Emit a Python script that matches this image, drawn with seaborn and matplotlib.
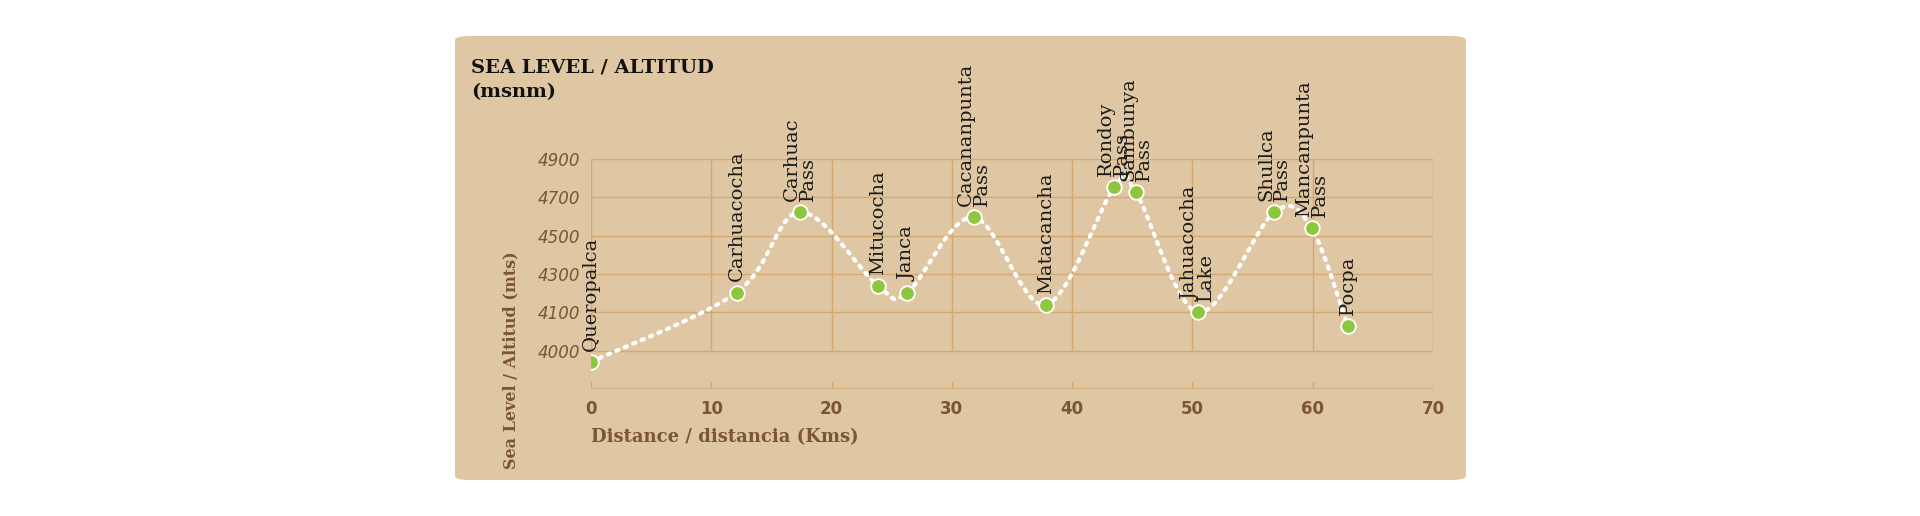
import numpy as np
import pandas as pd
import seaborn as sns
import matplotlib.pyplot as plt
from matplotlib.patches import FancyBboxPatch

# data
places = ["Queropalca", "Carhuacocha", "Carhuac\nPass", "Mitucocha", "Janca",
          "Cacananpunta\nPass", "Matacancha", "Rondoy\nPass", "Sambunya\nPass",
          "Jahuacocha\nLake", "Shullca\nPass", "Mancanpunta\nPass", "Pocpa"]
distance = [0, 12.1, 17.4, 23.9, 26.3, 31.8, 37.8, 43.5, 45.3, 50.5, 56.8, 59.9, 62.9]
altitude = [3842, 4203, 4623, 4235, 4203, 4597, 4139, 4752, 4726, 4100, 4622, 4539, 4030]
ytick_pos = [3900, 4100, 4300, 4500, 4700, 4900]
ytick_lab = ["4000", "4100", "4300", "4500", "4700", "4900"]
xtick_pos = [0, 10, 20, 30, 40, 50, 60, 70]

df = pd.DataFrame({"place": places, "km": distance, "alt": altitude})

BG = "#e0c7a3"
GRID = "#d2a873"
BROWN = "#7a5632"
GREEN = "#8dc63f"


def smooth(x, y, n=20):
    """catmull-rom curve through the points, for the dotted track"""
    x = np.asarray(x, float); y = np.asarray(y, float)
    px = np.r_[x[0], x, x[-1]]; py = np.r_[y[0], y, y[-1]]
    t = np.linspace(0, 1, n, endpoint=False)
    xs, ys = [], []
    for i in range(1, len(px) - 2):
        for arr, out in ((px, xs), (py, ys)):
            p0, p1, p2, p3 = arr[i - 1], arr[i], arr[i + 1], arr[i + 2]
            out.extend(0.5 * (2 * p1 + (-p0 + p2) * t + (2 * p0 - 5 * p1 + 4 * p2 - p3) * t ** 2
                              + (-p0 + 3 * p1 - 3 * p2 + p3) * t ** 3))
    xs.append(x[-1]); ys.append(y[-1])
    return np.array(xs), np.array(ys)


sns.set_theme(style="white")
fig = plt.figure(figsize=(19.2, 5.16), dpi=100)
fig.patch.set_facecolor("white")
bg_ax = fig.add_axes([0, 0, 1, 1], zorder=0)
bg_ax.set_axis_off()
bg_ax.add_patch(FancyBboxPatch((455 / 1920, 36 / 516), 1011 / 1920, 444 / 516,
                               boxstyle="round,pad=0,rounding_size=0.008",
                               transform=bg_ax.transAxes, facecolor=BG, edgecolor="none"))

ax = fig.add_axes([591 / 1920, 1 - 389 / 516, 842 / 1920, 230 / 516], zorder=2)
ax.set_facecolor("none")
ax.set_xlim(0, 70)
ax.set_ylim(3700, 4900)

# grid region
for y in ytick_pos:
    ax.plot([0, 70], [y, y], color=GRID, lw=1, zorder=1)
for x in xtick_pos:
    ax.plot([x, x], [3900, 4900], color=GRID, lw=1, zorder=1)
    ax.plot([x, x], [3700, 3735], color=GRID, lw=1, zorder=1)
ax.plot([0, 70], [3700, 3700], color=GRID, lw=1.2, zorder=1)

sx, sy = smooth(df["km"], df["alt"])
ax.plot(sx, sy, color="white", lw=3, ls=(0, (0.6, 1.6)), dash_capstyle="round", zorder=2)
sns.scatterplot(data=df, x="km", y="alt", ax=ax, s=110, color=GREEN,
                edgecolor="white", linewidth=1.3, zorder=3, legend=False)

for _, r in df.iterrows():
    ax.annotate(r["place"], (r["km"], r["alt"]), xytext=(0, 8), textcoords="offset points",
                rotation=90, ha="center", va="bottom", fontsize=14, family="DejaVu Serif",
                color="#1a1a1a", linespacing=0.85, multialignment="left",
                annotation_clip=False, zorder=4)

for s in ax.spines.values():
    s.set_visible(False)
ax.set_xticks(xtick_pos)
ax.set_xticklabels([str(v) for v in xtick_pos], fontsize=12, fontweight="bold", color=BROWN)
ax.set_yticks(ytick_pos)
ax.set_yticklabels(ytick_lab, fontsize=12, style="italic", color=BROWN)
ax.tick_params(length=0, pad=8)
ax.set_xlabel("")
ax.set_ylabel("")

fig.text(591 / 1920, 1 - 437 / 516, "Distance / distancia (Kms)", fontsize=13,
         fontweight="bold", family="DejaVu Serif", color=BROWN, va="center")
fig.text(511 / 1920, 1 - 360 / 516, "Sea Level / Altitud (mts)", fontsize=11.5,
         fontweight="bold", family="DejaVu Serif", color=BROWN, rotation=90,
         ha="center", va="center")
fig.text(471 / 1920, 1 - 67 / 516, "SEA LEVEL / ALTITUD", fontsize=14,
         fontweight="bold", family="DejaVu Serif", color="#111111", va="center")
fig.text(471 / 1920, 1 - 92 / 516, "(msnm)", fontsize=14,
         fontweight="bold", family="DejaVu Serif", color="#111111", va="center")

fig.savefig("out.png", dpi=100, facecolor="white")
